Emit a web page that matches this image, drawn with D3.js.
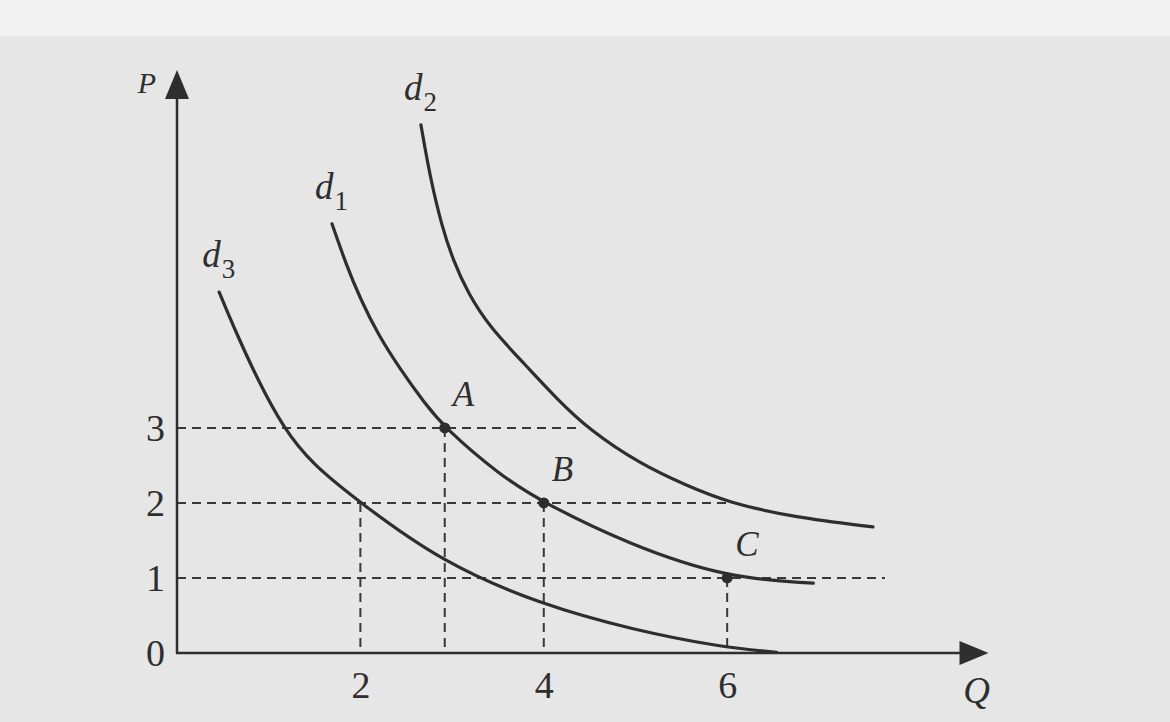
<!DOCTYPE html>
<html>
<head>
<meta charset="utf-8">
<script src="https://cdn.jsdelivr.net/npm/d3@7"></script>
<style>
  body { margin: 0; background: #e6e6e6; }
  svg { display: block; }
</style>
</head>
<body>
<script>
// demand curves as [Q, P]
var d1 = [[1.69, 5.72], [1.85, 5.16], [2.0, 4.72], [2.19, 4.25], [2.43, 3.79], [2.7, 3.33], [2.92, 3], [3.52, 2.37], [4, 2], [4.94, 1.44], [6, 1], [6.94, 0.93]];
var d2 = [[2.66, 7.04], [2.76, 6.34], [2.89, 5.68], [3.01, 5.24], [3.17, 4.8], [3.41, 4.34], [3.8, 3.84], [4.14, 3.39], [4.5, 2.97], [5.05, 2.52], [5.56, 2.23], [6, 2.01], [6.72, 1.81], [7.59, 1.68]];
var d3c = [[0.46, 4.81], [0.63, 4.31], [0.88, 3.64], [1.16, 3], [1.47, 2.52], [2, 2], [2.9, 1.2], [3.98, 0.64], [4.97, 0.31], [5.92, 0.08], [6.54, 0.01]];
var curveNames = ["d1", "d2", "d3"];

var qTicks = [2, 4, 6];
var pTicks = [0, 1, 2, 3];

var pointNames = ["A", "B", "C"];
var pointQ = [2.92, 4, 6];
var pointP = [3, 2, 1];

// dashed guides: horizontal (P level, where it stops) and vertical (Q, height)
var hGuideP = [3, 2, 1];
var hGuideEnd = [4.4, 6, 7.72];
var vGuideQ = [2, 2.92, 4, 6];
var vGuideTop = [2, 3, 2, 1];

var W = 1170, H = 722;
var ink = "#2e2e2e";
var serif = '"Liberation Serif", "DejaVu Serif", serif';

var x = d3.scaleLinear().domain([0, 8.85]).range([177, 988.5]);
var y = d3.scaleLinear().domain([0, 7.77]).range([653, 70]);

var svg = d3.select("body").append("svg")
  .attr("width", W)
  .attr("height", H);

svg.append("rect").attr("width", W).attr("height", H).attr("fill", "#e6e6e6");
svg.append("rect").attr("width", W).attr("height", 36).attr("fill", "#f2f2f2");

// guides
var guides = svg.append("g")
  .attr("stroke", "#383838")
  .attr("stroke-width", 2)
  .attr("stroke-dasharray", "9,6")
  .attr("fill", "none");

guides.selectAll(".h").data(hGuideP).enter().append("line")
  .attr("class", "h")
  .attr("x1", x(0)).attr("x2", function (d, i) { return x(hGuideEnd[i]); })
  .attr("y1", function (d) { return y(d); }).attr("y2", function (d) { return y(d); });

guides.selectAll(".v").data(vGuideQ).enter().append("line")
  .attr("class", "v")
  .attr("x1", function (d) { return x(d); }).attr("x2", function (d) { return x(d); })
  .attr("y1", function (d, i) { return y(vGuideTop[i]); }).attr("y2", y(0));

// axes: labels from d3 axes, the lines are drawn with arrows below
var yAxis = svg.append("g")
  .attr("transform", "translate(" + x(0) + ",0)")
  .call(d3.axisLeft(y).tickValues(pTicks).tickSize(0).tickPadding(12).tickFormat(d3.format("d")));
var xAxis = svg.append("g")
  .attr("transform", "translate(0," + y(0) + ")")
  .call(d3.axisBottom(x).tickValues(qTicks).tickSize(0).tickPadding(18).tickFormat(d3.format("d")));
svg.selectAll(".domain").remove();
svg.selectAll(".tick text")
  .attr("font-size", 38)
  .attr("font-family", serif)
  .attr("fill", ink);
yAxis.selectAll(".tick text").attr("dy", "0.34em");

var axes = svg.append("g").attr("stroke", ink).attr("stroke-width", 2.5);
axes.append("line").attr("x1", x(0)).attr("x2", x(0)).attr("y1", y(0)).attr("y2", y(7.77) + 20);
axes.append("line").attr("x1", x(0) - 1).attr("x2", x(8.85) - 20).attr("y1", y(0)).attr("y2", y(0));

var tipY = y(7.77), tipX = x(8.85);
svg.append("path")
  .attr("d", "M" + x(0) + "," + tipY + " L" + (x(0) - 12) + "," + (tipY + 29) + " L" + (x(0) + 12) + "," + (tipY + 29) + " Z")
  .attr("fill", ink);
svg.append("path")
  .attr("d", "M" + tipX + "," + y(0) + " L" + (tipX - 29) + "," + (y(0) - 12) + " L" + (tipX - 29) + "," + (y(0) + 12) + " Z")
  .attr("fill", ink);

// curves (B-spline smooths the hand-drawn reading a little)
var line = d3.line()
  .x(function (d) { return x(d[0]); })
  .y(function (d) { return y(d[1]); })
  .curve(d3.curveBasis);

var curves = [d1, d2, d3c];
svg.append("g").selectAll("path").data(curves).enter().append("path")
  .attr("d", line)
  .attr("fill", "none")
  .attr("stroke", ink)
  .attr("stroke-width", 3.2)
  .attr("stroke-linecap", "round");

// curve labels d1, d2, d3
var lab = svg.append("g").selectAll("text").data(curves).enter().append("text")
  .attr("x", function (d) { return x(d[0][0]) - 17; })
  .attr("y", function (d) { return y(d[0][1]) - 25; })
  .attr("font-family", serif)
  .attr("font-style", "italic")
  .attr("font-size", 37)
  .attr("fill", ink);
lab.append("tspan").text("d");
lab.append("tspan")
  .attr("font-size", 27)
  .attr("font-style", "normal")
  .attr("dx", 1)
  .attr("dy", 11)
  .text(function (d, i) { return curveNames[i].slice(1); });

// points A, B, C
svg.append("g").selectAll("circle").data(pointNames).enter().append("circle")
  .attr("cx", function (d, i) { return x(pointQ[i]); })
  .attr("cy", function (d, i) { return y(pointP[i]); })
  .attr("r", 5.5)
  .attr("fill", ink);

svg.append("g").selectAll("text").data(pointNames).enter().append("text")
  .attr("x", function (d, i) { return x(pointQ[i]) + 8; })
  .attr("y", function (d, i) { return y(pointP[i]) - 22; })
  .attr("font-family", serif)
  .attr("font-style", "italic")
  .attr("font-size", 35)
  .attr("fill", ink)
  .text(function (d) { return d; });

// axis names
svg.append("text")
  .attr("x", x(0) - 21).attr("y", tipY + 23)
  .attr("text-anchor", "end")
  .attr("font-family", serif).attr("font-style", "italic").attr("font-size", 30)
  .attr("fill", ink).text("P");
svg.append("text")
  .attr("x", tipX - 12).attr("y", y(0) + 50)
  .attr("text-anchor", "middle")
  .attr("font-family", serif).attr("font-style", "italic").attr("font-size", 37)
  .attr("fill", ink).text("Q");
</script>
</body>
</html>
